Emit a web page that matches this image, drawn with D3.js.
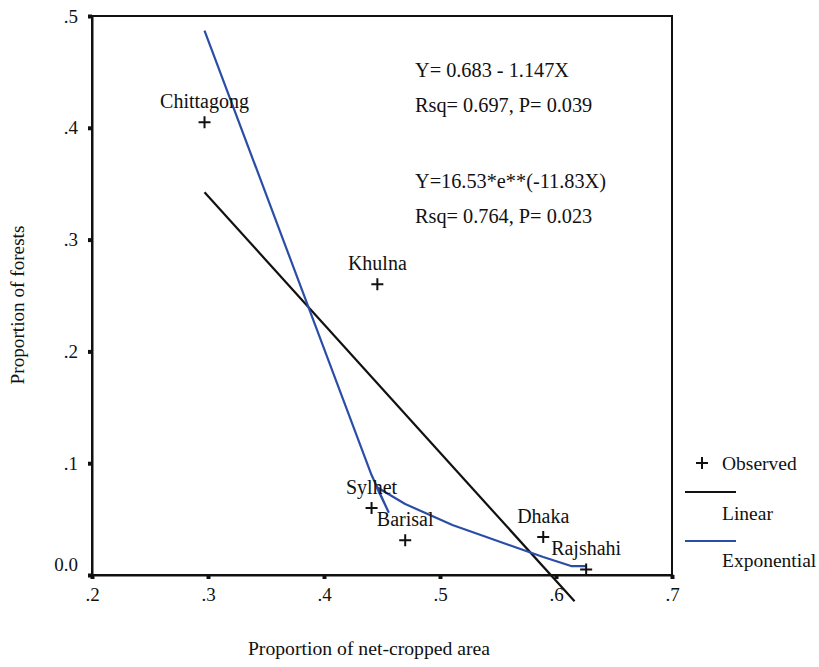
<!DOCTYPE html>
<html>
<head>
<meta charset="utf-8">
<script src="https://cdn.jsdelivr.net/npm/d3@7/dist/d3.min.js"></script>
<style>
  html, body { margin: 0; padding: 0; background: #fff; }
  svg { display: block; }
  svg text { font-family: "Liberation Serif", "Times New Roman", Times, "DejaVu Serif", serif !important; fill: #111; }
</style>
</head>
<body>
<svg id="chart" width="819" height="667"></svg>
<script>
// ---- Data ----
const regions   = ["Chittagong", "Khulna", "Sylhet", "Barisal", "Dhaka", "Rajshahi"];
const cropped   = [0.297, 0.446, 0.441, 0.470, 0.589, 0.626];   // Proportion of net-cropped area
const forests   = [0.405, 0.260, 0.060, 0.031, 0.034, 0.005];   // Proportion of forests

// Linear fit: Y = 0.683 - 1.147X, drawn over this x range
const linIntercept = 0.683;
const linSlope     = -1.147;
const linXRange    = [0.297, 0.616];

// Exponential fit line as drawn in the figure
const expX = [0.297, 0.441, 0.4556, 0.4453, 0.470, 0.5107, 0.540, 0.589, 0.613, 0.626];
const expY = [0.487, 0.0894, 0.0564, 0.0787, 0.0635, 0.0447, 0.034, 0.0161, 0.008, 0.008];

const xTicks = [0.2, 0.3, 0.4, 0.5, 0.6, 0.7];
const xTickLabels = [".2", ".3", ".4", ".5", ".6", ".7"];
const yTicks = [0.0, 0.1, 0.2, 0.3, 0.4, 0.5];
const yTickLabels = ["0.0", ".1", ".2", ".3", ".4", ".5"];

const annotations = ["Y= 0.683 - 1.147X", "Rsq= 0.697, P= 0.039", "Y=16.53*e**(-11.83X)", "Rsq= 0.764, P= 0.023"];
const legendLabels = ["Observed", "Linear", "Exponential"];

// ---- Layout ----
const FONT = "'Liberation Serif', 'Times New Roman', Times, serif";
const svg = d3.select("#chart");
const L = 92, R = 672, T = 16, B = 575;
const x = d3.scaleLinear().domain([0.2, 0.7]).range([L, R]);
const y = d3.scaleLinear().domain([0, 0.5]).range([B, T]);

// Frame
svg.append("rect").attr("x", L).attr("y", T).attr("width", R - L).attr("height", B - T)
  .attr("fill", "none").attr("stroke", "#111").attr("stroke-width", 2);

// Axes
const xAxis = d3.axisBottom(x).tickValues(xTicks).tickFormat((d, i) => xTickLabels[i]).tickSize(4).tickPadding(9);
const gx = svg.append("g").attr("transform", `translate(0,${B})`).call(xAxis).attr("font-family", FONT);
gx.select(".domain").attr("stroke", "#111").attr("stroke-width", 2);
gx.selectAll(".tick line").attr("stroke", "#111").attr("stroke-width", 4);
gx.selectAll(".tick text").style("font-size", "19px").attr("fill", "#111");

const yAxis = d3.axisLeft(y).tickValues(yTicks).tickFormat((d, i) => yTickLabels[i]).tickSize(4).tickPadding(10);
const gy = svg.append("g").attr("transform", `translate(${L},0)`).call(yAxis).attr("font-family", FONT);
gy.select(".domain").attr("stroke", "#111").attr("stroke-width", 2);
gy.selectAll(".tick line").attr("stroke", "#111").attr("stroke-width", 4);
gy.selectAll(".tick text").style("font-size", "19px").attr("fill", "#111")
  .attr("dy", (d) => d === 0 ? "-0.25em" : "0.32em");

// Axis titles
svg.append("text").attr("x", 369).attr("y", 655).attr("text-anchor", "middle")
  .style("font-size", "19.7px").text("Proportion of net-cropped area");
svg.append("text").attr("transform", "translate(24,305) rotate(-90)").attr("text-anchor", "middle")
  .style("font-size", "19.2px").text("Proportion of forests");

// Linear fit
const linData = linXRange.map(v => [v, linIntercept + linSlope * v]);
svg.append("path").datum(linData)
  .attr("d", d3.line().x(d => x(d[0])).y(d => y(d[1])))
  .attr("fill", "none").attr("stroke", "#111").attr("stroke-width", 2.2);

// Exponential fit
const expData = expX.map((v, i) => [v, expY[i]]);
svg.append("path").datum(expData)
  .attr("d", d3.line().x(d => x(d[0])).y(d => y(d[1])))
  .attr("fill", "none").attr("stroke", "#2a4ea8").attr("stroke-width", 2.2)
  .attr("stroke-linejoin", "round");

// Observed points
const pts = regions.map((r, i) => ({ r, x: cropped[i], y: forests[i] }));
const g = svg.append("g");
pts.forEach(p => {
  const px = x(p.x), py = y(p.y);
  g.append("path").attr("d", `M${px - 6},${py}H${px + 6}M${px},${py - 6}V${py + 6}`)
    .attr("stroke", "#111").attr("stroke-width", 2);
  g.append("text").attr("x", px).attr("y", py - 14).attr("text-anchor", "middle")
    .style("font-size", "20px").text(p.r);
});

// Annotations
const annY = [77, 112, 188, 223];
annotations.forEach((t, i) => {
  svg.append("text").attr("x", 415).attr("y", annY[i]).style("font-size", "20.3px").text(t);
});

// Legend
const lg = svg.append("g");
lg.append("path").attr("d", "M696,463H708M702,457V469").attr("stroke", "#111").attr("stroke-width", 2);
lg.append("text").attr("x", 722).attr("y", 470).style("font-size", "19.5px").text(legendLabels[0]);
lg.append("line").attr("x1", 685).attr("x2", 736).attr("y1", 492).attr("y2", 492)
  .attr("stroke", "#111").attr("stroke-width", 2);
lg.append("text").attr("x", 722).attr("y", 520).style("font-size", "19.5px").text(legendLabels[1]);
lg.append("line").attr("x1", 685).attr("x2", 736).attr("y1", 541).attr("y2", 541)
  .attr("stroke", "#2a4ea8").attr("stroke-width", 2);
lg.append("text").attr("x", 722).attr("y", 567).style("font-size", "19.5px").text(legendLabels[2]);
</script>
</body>
</html>
